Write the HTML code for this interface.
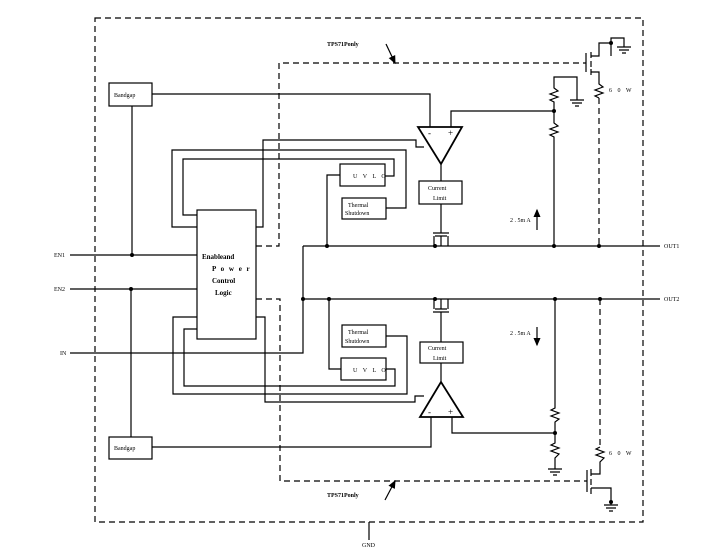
<!DOCTYPE html>
<html><head><style>body{margin:0;background:#fff}svg{display:block}text{font-family:"Liberation Serif",serif;fill:#000}</style></head>
<body>
<svg width="713" height="556" viewBox="0 0 713 556" xmlns="http://www.w3.org/2000/svg">
<defs>
<marker id="ah" markerWidth="8" markerHeight="8" refX="6" refY="4" orient="auto"><path d="M0,1 L7,4 L0,7z" fill="#000"/></marker>
</defs>
<g fill="none" stroke="#000" stroke-width="1.2">
<rect x="95" y="18" width="548" height="504" stroke-dasharray="6,4"/>
<path d="M256,246 H279 V63 H586" stroke-dasharray="6,4"/>
<path d="M256,299 H280 V481 H587" stroke-dasharray="6,4"/>
<path d="M599,98 V246" stroke-dasharray="6,4"/>
<path d="M600,299 V447" stroke-dasharray="6,4"/>
<line x1="369" y1="522" x2="369" y2="540"/>
<line x1="386" y1="44" x2="395" y2="63" marker-end="url(#ah)"/>
<line x1="385" y1="500" x2="395" y2="481" marker-end="url(#ah)"/>
<rect x="109" y="83" width="43" height="23"/>
<rect x="109" y="437" width="43" height="22"/>
<rect x="197" y="210" width="59" height="129"/>
<rect x="340" y="164" width="45" height="22"/>
<rect x="342" y="198" width="44" height="21"/>
<rect x="419" y="181" width="43" height="23"/>
<rect x="342" y="325" width="44" height="22"/>
<rect x="341" y="358" width="45" height="22"/>
<rect x="420" y="342" width="43" height="21"/>
<path d="M418,127 H462 L441,164 Z" stroke-width="1.8"/>
<path d="M420,417 H463 L441,382 Z" stroke-width="1.8"/>
<path d="M70,255 H197 M70,289 H197 M70,353 H303 V246 M132,106 V255 M131,289 V437"/>
<path d="M152,94 H430 V127 M451,127 V111 H554"/>
<path d="M152,447 H431 V417 M452,417 V433 H555"/>
<path d="M197,227 H172 V150 H406 V208 H386"/>
<path d="M197,215 H183 V159 H394 V176 H385"/>
<path d="M256,227 H263 V140 H416 V147 H424"/>
<path d="M340,175 H327 V246"/>
<path d="M197,317 H173 V394 H407 V336 H386"/>
<path d="M197,329 H184 V386 H395 V369 H386"/>
<path d="M256,317 H265 V402 H415 V396 H424"/>
<path d="M341,369 H329 V299"/>
<path d="M441,164 V181 M441,204 V233 M433,233 H449"/>
<path d="M441,363 V382 M441,342 V312 M433,312 H449"/>
<path d="M434,246 V236 M441,246 V236 M448,246 V236 M435,236 H447"/>
<path d="M434,299 V309 M441,299 V309 M448,299 V309 M435,309 H447"/>
<path d="M303,246 H660 M303,299 H660"/>
<path d="M554,246 V137 L550,135 L558,132 L550,129 L558,126 L554,123 V102 L550,100 L558,97 L550,94 L558,91 L554,88 V77 H577 V100"/>
<path d="M570,100 H584 M572,103 H582 M575,106 H579"/>
<path d="M555,299 V408 L551,410 L559,413 L551,416 L559,419 L555,422 V443 L551,445 L559,448 L551,451 L559,454 L555,458 V469"/>
<path d="M548,469 H562 M550,472 H560 M553,475 H557"/>
<path d="M599,98 L595,96 L603,93 L595,90 L603,87 L599,84 V72 H591"/>
<path d="M586,53 V72 M591,52 V58 M591,61 V67 M591,69 V75 M591,56 H599 V43 H611 V38 H624 V47 M611,43 V56"/>
<path d="M617,47 H631 M619,50 H629 M622,53 H626"/>
<path d="M600,447 L596,449 L604,452 L596,455 L604,458 L600,462 V474 H591"/>
<path d="M587,470 V492 M591,469 V476 M591,479 V485 M591,488 V494 M591,488 H611 V505"/>
<path d="M604,505 H618 M606,508 H616 M609,511 H613"/>
<line x1="537" y1="230" x2="537" y2="210" marker-end="url(#ah)"/>
<line x1="537" y1="327" x2="537" y2="345" marker-end="url(#ah)"/>
</g>
<g fill="#000">
<circle cx="132" cy="255" r="2"/><circle cx="131" cy="289" r="2"/>
<circle cx="327" cy="246" r="2"/><circle cx="435" cy="246" r="2"/><circle cx="554" cy="246" r="2"/><circle cx="599" cy="246" r="2"/>
<circle cx="303" cy="299" r="2"/><circle cx="329" cy="299" r="2"/><circle cx="435" cy="299" r="2"/><circle cx="555" cy="299" r="2"/><circle cx="600" cy="299" r="2"/>
<circle cx="554" cy="111" r="2"/><circle cx="555" cy="433" r="2"/>
<circle cx="611" cy="43" r="2"/><circle cx="611" cy="502" r="2"/>
</g>
<g font-size="6">
<text x="114" y="97">Bandgap</text>
<text x="114" y="450">Bandgap</text>
<text x="54" y="257">EN1</text>
<text x="54" y="291">EN2</text>
<text x="60" y="355">IN</text>
<text x="664" y="248">OUT1</text>
<text x="664" y="301">OUT2</text>
<text x="362" y="547">GND</text>
<text x="353" y="178" letter-spacing="2">U V L O</text>
<text x="353" y="372" letter-spacing="2">U V L O</text>
<text x="348" y="207">Thermal</text><text x="345" y="215">Shutdown</text>
<text x="348" y="334">Thermal</text><text x="345" y="343">Shutdown</text>
<text x="428" y="190">Current</text><text x="433" y="200">Limit</text>
<text x="428" y="350">Current</text><text x="433" y="360">Limit</text>
<text x="510" y="222">2 . 5m A</text>
<text x="510" y="335">2 . 5m A</text>
<text x="609" y="92" letter-spacing="2">6 0 W</text>
<text x="609" y="455" letter-spacing="2">6 0 W</text>
<text x="327" y="46" font-weight="bold">TPS71Ponly</text>
<text x="327" y="497" font-weight="bold">TPS71Ponly</text>
<text x="428" y="136" font-size="9">-</text><text x="448" y="136" font-size="9">+</text>
<text x="428" y="415" font-size="9">-</text><text x="448" y="415" font-size="9">+</text>
</g>
<g font-size="7" font-weight="bold">
<text x="202" y="259">Enableand</text>
<text x="212" y="271" letter-spacing="1.5">P o w e r</text>
<text x="212" y="283">Control</text>
<text x="215" y="295">Logic</text>
</g>
</svg>
</body></html>
